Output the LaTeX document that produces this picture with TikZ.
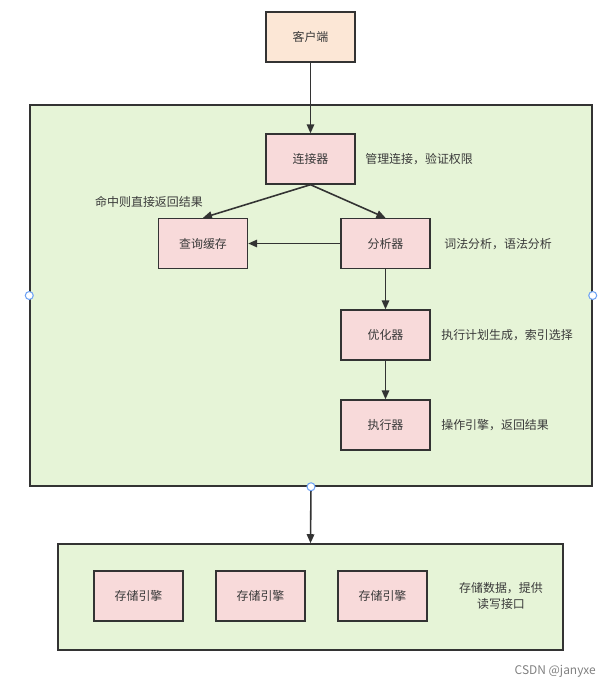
\documentclass[tikz,border=0pt]{standalone}
\usepackage{fontspec}
\usepackage{xcolor}
\usepackage{tikz}
\usetikzlibrary{positioning,arrows.meta}
\newfontfamily\cjk{Noto Sans CJK SC}

\definecolor{edgecol}{HTML}{333333}
\definecolor{textcol}{HTML}{3A3A3A}
\definecolor{peach}{HTML}{FCE7D6}
\definecolor{rosefill}{HTML}{F8DADA}
\definecolor{greenfill}{HTML}{E6F4D7}
\definecolor{pointcol}{HTML}{6FA3F5}

\tikzset{
    unit/.style={draw=edgecol, line width=0.8pt, fill=rosefill, minimum width=1.78cm, minimum height=1.0cm, inner sep=0pt, font=\cjk\fontsize{6.8}{8}\selectfont, text=textcol},
    client/.style={unit, fill=peach},
    layer/.style={draw=edgecol, line width=0.9pt, fill=greenfill, inner sep=0pt},
    note/.style={font=\cjk\fontsize{6.8}{8.6}\selectfont, text=textcol, inner sep=0pt},
    handle/.style={circle, draw=pointcol, fill=white, line width=0.6pt, minimum size=0.16cm, inner sep=0pt},
    flow/.style={draw=edgecol, line width=0.9pt, -{Triangle[length=0.18cm, width=0.15cm]}}
}

\begin{document}
\begin{tikzpicture}[x=0.02cm, y=-0.02cm]
    \useasboundingbox (0,0) rectangle (610,687);
    % server layer and storage layer
    \node[layer, minimum width=11.24cm, minimum height=7.62cm] (server) at (311,295.5) {};
    \node[layer, minimum width=10.1cm, minimum height=2.12cm] (storage) at (310.5,597) {};

    \node[client] (client) at (310.5,37) {客户端};
    \node[unit] (conn) at (310.5,159) {连接器};
    \node[unit] (cache) at (203,243.5) {查询缓存};
    \node[unit] (parser) at (385.5,243.5) {分析器};
    \node[unit] (optim) at (385.5,335) {优化器};
    \node[unit] (exec) at (385.5,425) {执行器};
    \foreach \x/\n in {138.5/eng1, 260.5/eng2, 382.5/eng3}
        \node[unit] (\n) at (\x,596) {存储引擎};

    % notes
    \node[note, anchor=west] (connnote) at (365,159) {管理连接，验证权限};
    \node[note] (cachenote) at (149,202) {命中则直接返回结果};
    \node[note, anchor=west] (parsenote) at (444,244) {词法分析，语法分析};
    \node[note, anchor=west] (optimnote) at (441,335) {执行计划生成，索引选择};
    \node[note, anchor=west] (execnote) at (441,425) {操作引擎，返回结果};
    \node[note, align=center] (storenote) at (501,596) {存储数据，提供\\读写接口};
    \node[note, anchor=east, text=gray] (mark) at (596,671) {CSDN @janyxe};

    % connections
    \draw[flow] (client) -- (conn);
    \draw[flow] (conn.south) -- (cache.north);
    \draw[flow] (conn.south) -- (parser.north);
    \draw[flow] (parser) -- (cache);
    \draw[flow] (parser) -- (optim);
    \draw[flow] (optim) -- (exec);
    \draw[flow] (server.south) -- (storage.north);

    % handles
    \foreach \a/\n in {west/hw, east/he, south/hs}
        \node[handle] (\n) at (server.\a) {};
\end{tikzpicture}
\end{document}
